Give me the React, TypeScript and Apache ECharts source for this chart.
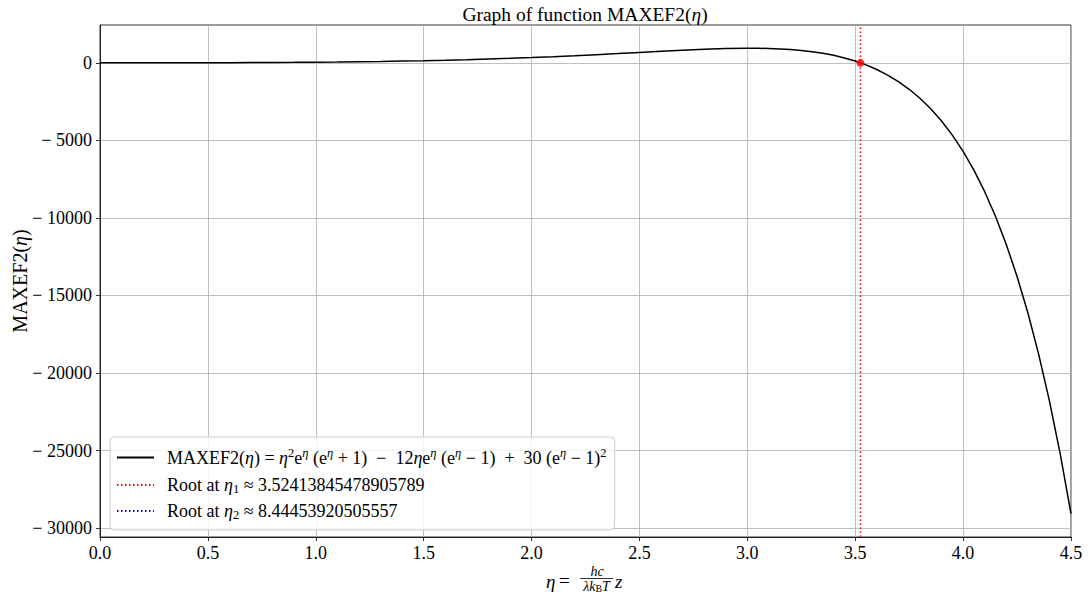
import React, { useEffect, useRef } from "react";
import * as echarts from "echarts";

// eta sample points (x) and MAXEF2 values
const etaValues = [
  0.0, 0.1, 0.2, 0.3, 0.4, 0.5, 0.6, 0.7, 0.8, 0.9,
  1.0, 1.1, 1.2, 1.3, 1.4, 1.5, 1.6, 1.7, 1.8, 1.9,
  2.0, 2.1, 2.2, 2.3, 2.4, 2.5, 2.6, 2.7, 2.8, 2.9,
  3.0, 3.05, 3.1, 3.15, 3.2, 3.25, 3.3, 3.35, 3.4, 3.45,
  3.5, 3.55, 3.6, 3.65, 3.7, 3.75, 3.8, 3.85, 3.9, 3.95,
  4.0, 4.05, 4.1, 4.15, 4.2, 4.25, 4.3, 4.35, 4.4, 4.45, 4.5,
];
const maxef2Values = [
  0, 0.2, 0.9, 2.3, 4.3, 7.3, 11.4, 16.7, 23.6, 32.3,
  42.6, 55.6, 71.2, 89.9, 112.1, 138.1, 168.4, 203.3, 243.3, 288.6,
  339.5, 396.0, 457.9, 524.6, 595.3, 668.2, 741.1, 810.5, 871.4, 917.2,
  939.0, 937.3, 924.7, 899.4, 858.7, 800.1, 720.5, 616.2, 483.5, 317.6,
  113.8, -134.0, -432.0, -787.6, -1208.8, -1704.9, -2286.1, -2964.0, -3751.3, -4662.5,
  -5713.5, -6922.5, -8309.3, -9896.0, -11707.7, -13771.8, -16118.9, -18782.8, -21801.4, -25216.3, -29073.9,
];
const root1 = 3.52413845478905789;
const root2 = 8.44453920505557;
const root1Label = "3.52413845478905789";
const root2Label = "8.44453920505557";

const xTickValues = [0, 0.5, 1, 1.5, 2, 2.5, 3, 3.5, 4, 4.5];
const yTickValues = [-30000, -25000, -20000, -15000, -10000, -5000, 0];
const xRange = [0, 4.5];
const yRange = [-30575, 2440];

const SERIF = "'Liberation Serif', 'DejaVu Serif', serif";

const richBase = (size: number) => ({
  g: { fontFamily: SERIF, fontSize: size, width: 8, lineHeight: 18 },
  r: { fontFamily: SERIF, fontSize: size, color: "#000", lineHeight: 18 },
  i: { fontFamily: SERIF, fontSize: size, fontStyle: "italic", color: "#000", lineHeight: 18 },
  sup: { fontFamily: SERIF, fontSize: 12.5, color: "#000", lineHeight: 12, padding: [0, 0, 10, 0] },
  supi: { fontFamily: SERIF, fontSize: 12.5, fontStyle: "italic", color: "#000", lineHeight: 12, padding: [0, 0, 10, 0] },
  sub: { fontFamily: SERIF, fontSize: 12.5, color: "#000", lineHeight: 12, padding: [7, 0, 0, 0] },
});

export default function App() {
  const ref = useRef<HTMLDivElement>(null);

  useEffect(() => {
    document.body.style.margin = "0";
    if (!ref.current) return;
    const chart = echarts.init(ref.current, undefined, { renderer: "svg" });

    const curve = etaValues.map((x, k) => [x, maxef2Values[k]]);

    const legendNames: Record<string, string> = {
      f:
        "{g| }{r|MAXEF2(}{i|η}{r|) = }{i|η}{sup|2}{r|e}{supi|η}{r| (e}{supi|η}{r| + 1)  −  12}{i|η}{r|e}{supi|η}{r| (e}{supi|η}{r| − 1)  +  30 (e}{supi|η}{r| − 1)}{sup|2}",
      r1: "{g| }{r|Root at }{i|η}{sub|1}{r| ≈ " + root1Label + "}",
      r2: "{g| }{r|Root at }{i|η}{sub|2}{r| ≈ " + root2Label + "}",
    };

    const fmtY = (v: number) => (v < 0 ? "− " + Math.abs(v) : String(v));

    chart.setOption({
      animation: false,
      backgroundColor: "#fff",
      grid: {
        left: 100,
        right: 17,
        top: 25,
        bottom: 55,
        show: true,
        borderColor: "#000",
        borderWidth: 0.8,
        backgroundColor: "transparent",
        containLabel: false,
        outerBoundsMode: "none",
      },
      xAxis: {
        type: "value",
        min: xRange[0],
        max: xRange[1],
        interval: 0.5,
        axisLine: { show: true, onZero: false, lineStyle: { color: "#000", width: 0.8 } },
        axisTick: { show: true, inside: false, length: 4, lineStyle: { color: "#000", width: 0.8 } },
        axisLabel: {
          margin: 7,
          fontFamily: SERIF,
          fontSize: 18,
          color: "#000",
          formatter: (v: number) => v.toFixed(1),
          customValues: xTickValues,
        },
        splitLine: { show: true, lineStyle: { color: "#b0b0b0", width: 0.8 } },
      },
      yAxis: {
        type: "value",
        min: yRange[0],
        max: yRange[1],
        name: "{r|MAXEF2(}{i|η}{r|)}",
        nameLocation: "middle",
        nameRotate: 90,
        nameGap: 71,
        nameMoveOverlap: false,
        nameTextStyle: { rich: richBase(20) },
        axisLine: { show: true, onZero: false, lineStyle: { color: "#000", width: 0.8 } },
        axisTick: {
          show: true,
          inside: false,
          length: 4,
          lineStyle: { color: "#000", width: 0.8 },
          customValues: yTickValues,
        },
        axisLabel: {
          margin: 8,
          fontFamily: SERIF,
          fontSize: 18,
          color: "#000",
          formatter: fmtY,
          customValues: yTickValues,
        },
        splitLine: { show: true, lineStyle: { color: "#b0b0b0", width: 0.8 } },
      },
      legend: {
        orient: "vertical",
        left: 110,
        top: 437,
        data: ["f", "r1", "r2"],
        formatter: (name: string) => legendNames[name],
        textStyle: { rich: richBase(18) },
        itemWidth: 37,
        itemHeight: 14,
        itemGap: 6,
        itemStyle: { opacity: 0 },
        padding: [9, 8, 9, 6],
        backgroundColor: "rgba(255,255,255,0.8)",
        borderColor: "#cccccc",
        borderWidth: 1,
        borderRadius: 4,
      },
      series: [
        {
          name: "f",
          type: "line",
          data: curve,
          showSymbol: false,
          symbol: "none",
          itemStyle: { color: "#000" },
          lineStyle: { color: "#000", width: 1.5 },
          z: 3,
        },
        {
          name: "r1",
          type: "line",
          data: [
            [root1, yRange[0]],
            [root1, yRange[1]],
          ],
          symbol: "none",
          itemStyle: { color: "#ff0000" },
          lineStyle: { color: "#ff0000", width: 1.5, type: [1.5, 2.5] },
          z: 4,
        },
        {
          name: "r2",
          type: "line",
          data: [
            [root2, yRange[0]],
            [root2, yRange[1]],
          ],
          symbol: "none",
          itemStyle: { color: "#0000ff" },
          lineStyle: { color: "#0000ff", width: 1.5, type: [1.5, 2.5] },
          z: 4,
        },
        {
          name: "rootPoint",
          type: "scatter",
          data: [[root1, 0]],
          symbolSize: 8,
          itemStyle: { color: "#ff0000" },
          z: 5,
        },
      ],
      graphic: [
        {
          type: "text",
          x: 585,
          y: 14,
          style: {
            text: "{r|Graph of function MAXEF2(}{i|η}{r|)}",
            align: "center",
            verticalAlign: "middle",
            rich: richBase(19.5),
          },
        },
        // x-axis title: η = hc / (λ k_B T) z
        {
          type: "text",
          x: 546,
          y: 581,
          style: { text: "η", font: "italic 19px " + SERIF, fill: "#000", verticalAlign: "middle" },
        },
        {
          type: "text",
          x: 559,
          y: 580,
          style: { text: "=", font: "19px " + SERIF, fill: "#000", verticalAlign: "middle" },
        },
        {
          type: "text",
          x: 597,
          y: 571,
          style: { text: "hc", font: "italic 14px " + SERIF, fill: "#000", align: "center", verticalAlign: "middle" },
        },
        {
          type: "line",
          shape: { x1: 580, y1: 578.5, x2: 613, y2: 578.5 },
          style: { stroke: "#000", lineWidth: 0.8 },
        },
        {
          type: "text",
          x: 596.5,
          y: 586,
          style: {
            text: "{i|λk}{s|B}{i|T}",
            align: "center",
            verticalAlign: "middle",
            rich: {
              i: { fontFamily: SERIF, fontSize: 14, fontStyle: "italic", color: "#000", lineHeight: 14 },
              s: { fontFamily: SERIF, fontSize: 10, color: "#000", lineHeight: 10, padding: [4, 0, 0, 0] },
            },
          },
        },
        {
          type: "text",
          x: 615,
          y: 581,
          style: { text: "z", font: "italic 19px " + SERIF, fill: "#000", verticalAlign: "middle" },
        },
      ],
    });

    return () => chart.dispose();
  }, []);

  return <div ref={ref} style={{ width: 1088, height: 592 }} />;
}
